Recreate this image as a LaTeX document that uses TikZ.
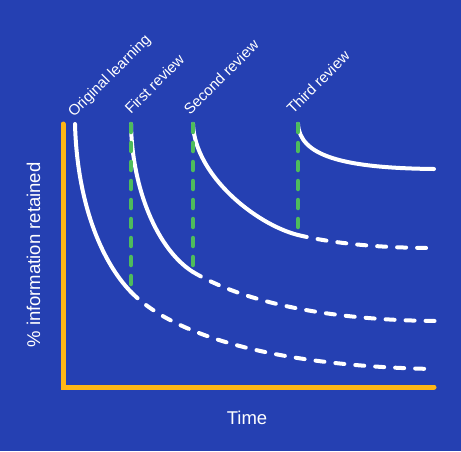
\documentclass[tikz,border=0pt]{standalone}
\usepackage{fontspec}
\setmainfont{Liberation Sans}

\definecolor{bgblue}{RGB}{37,64,178}
\definecolor{axisorange}{RGB}{254,182,22}
\definecolor{reviewgreen}{RGB}{78,188,92}

\tikzset{
	axisline/.style={draw=axisorange, line width=5pt, line cap=round},
	curvesolid/.style={draw=white, line width=4pt, line cap=round},
	curvedashed/.style={curvesolid, dash pattern=on 9pt off 11pt},
	reviewline/.style={draw=reviewgreen, line width=4.5pt, line cap=round, dash pattern=on 8pt off 11pt},
	stagelabel/.style={text=white, font=\fontsize{15}{17}\selectfont, rotate=45, anchor=base west, inner sep=0pt},
	axislabel/.style={text=white, font=\fontsize{18.5}{20}\selectfont, anchor=base, inner sep=0pt}
}

\begin{document}
\begin{tikzpicture}[x=1pt, y=-1pt]

	\fill[bgblue] (0,0) rectangle (461,451);
	\useasboundingbox (0,0) rectangle (461,451);

	\def\ytop{124}

	% axes
	\coordinate (ytop) at (63,\ytop);
	\coordinate (origin) at (63,387);
	\coordinate (xend) at (434,387);
	\draw[axisline] (ytop) -- (origin) -- (xend);

	\node[axislabel] (timelabel) at (247,424) {Time};
	\node[axislabel, rotate=90] (retainlabel) at (40,255) {\% information retained};

	% start of each curve, point of each review, end of each tail
	\coordinate (s0) at (75,\ytop);
	\coordinate (s1) at (131,\ytop);
	\coordinate (s2) at (193,\ytop);
	\coordinate (s3) at (298,\ytop);
	\coordinate (r1) at (131,292);
	\coordinate (r2) at (193,272);
	\coordinate (r3) at (298,235);
	\coordinate (e1) at (434,369);
	\coordinate (e2) at (436,321);
	\coordinate (e3) at (434,248);
	\coordinate (e4) at (434,169);

	% forgetting curves
	\draw[curvesolid] (s0) .. controls (77,200) and (100,260) .. (r1);
	\draw[curvedashed] (r1) .. controls (172,334) and (270,366) .. (e1);

	\draw[curvesolid] (s1) .. controls (132,190) and (158,250) .. (r2);
	\draw[curvedashed] (r2) .. controls (240,300) and (320,320) .. (e2);

	\draw[curvesolid] (s2) .. controls (195,175) and (255,224) .. (r3);
	\draw[curvedashed] (r3) .. controls (340,245) and (390,248) .. (e3);

	\draw[curvesolid] (s3) .. controls (300,155) and (340,168) .. (e4);

	% reviews
	\foreach \i in {1, 2, 3} {
		\draw[reviewline] (s\i) -- (r\i);
	}

	\node[stagelabel] (learnlabel) at (74,118) {Original learning};
	\node[stagelabel] (firstlabel) at (131,115) {First review};
	\node[stagelabel] (secondlabel) at (190,116) {Second review};
	\node[stagelabel] (thirdlabel) at (293,115) {Third review};

\end{tikzpicture}
\end{document}
